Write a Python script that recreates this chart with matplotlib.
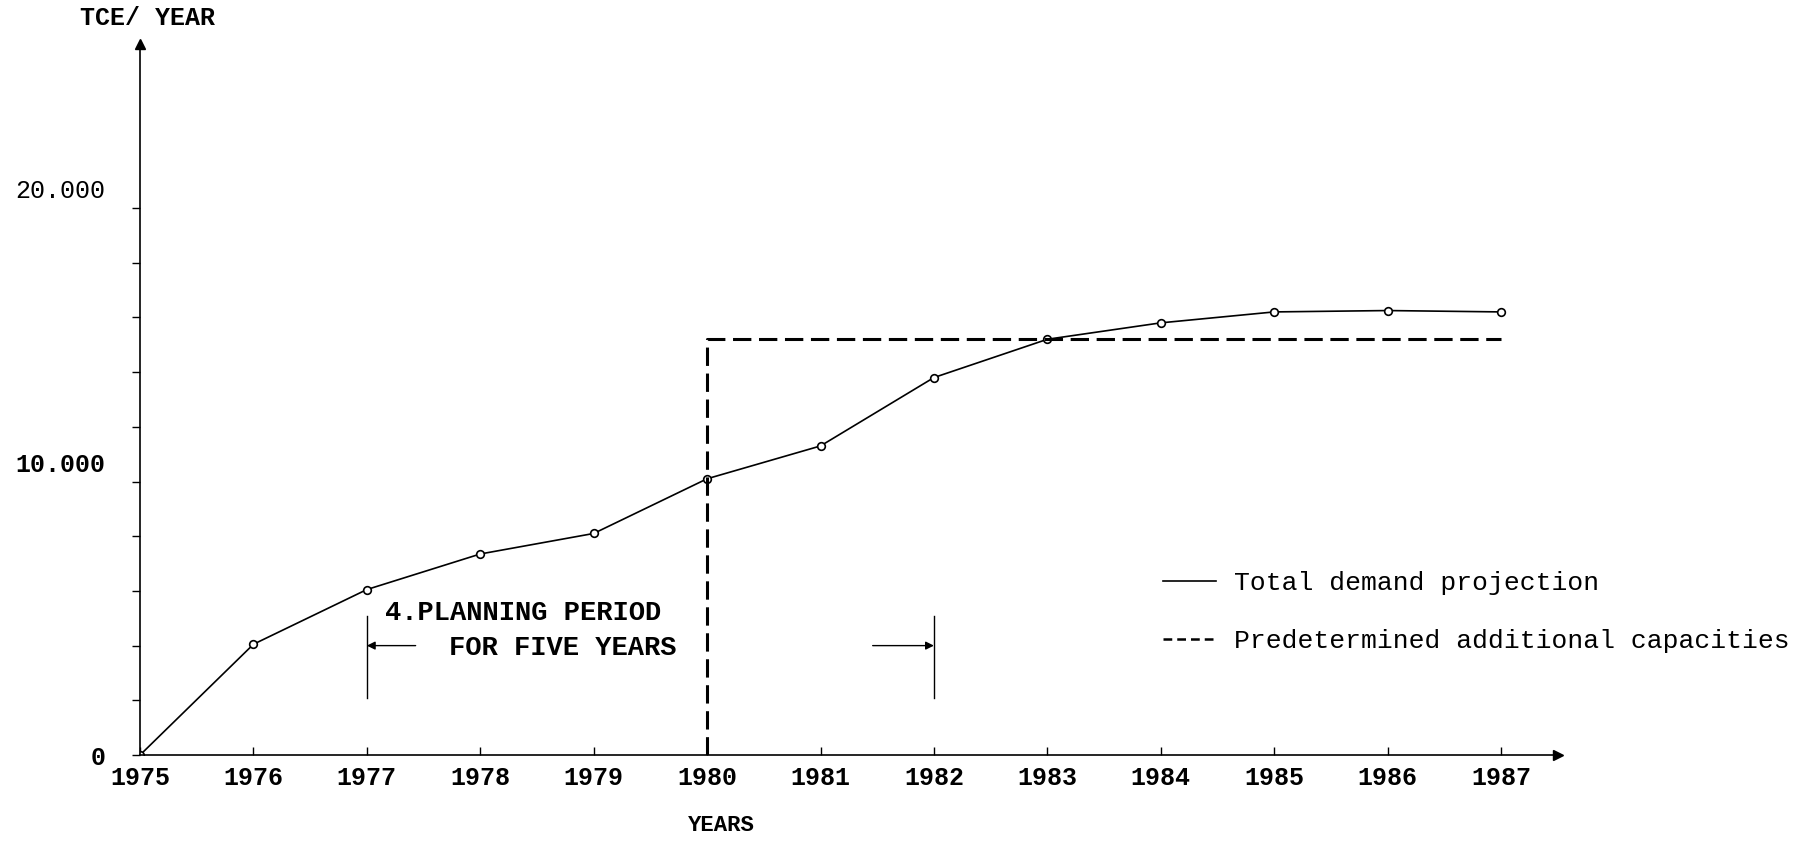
import matplotlib
matplotlib.use("Agg")
import matplotlib.pyplot as plt
import matplotlib.transforms as mtransforms

# data
years = [1975, 1976, 1977, 1978, 1979, 1980, 1981, 1982, 1983, 1984, 1985, 1986, 1987]
total_demand = [0, 4050, 6050, 7350, 8100, 10100, 11300, 13800, 15200, 15800, 16200, 16250, 16200]

capacity_years = [1980, 1980, 1987]
capacity_values = [0, 15200, 15200]

planning_start = 1977
planning_end = 1982
planning_arrow_y = 4000
planning_bracket = [2100, 5100]

y_major = [0, 10000, 20000]
y_major_labels = ["0", "10.000", "20.000"]
y_minor = list(range(0, 22000, 2000))

MONO = "Liberation Mono"

fig = plt.figure(figsize=(18.14, 8.42), dpi=100)
ax = fig.add_axes([0.0772, 0.1033, 0.7815, 0.8446])

ax.plot(years, total_demand, color="black", lw=1.2, marker="o", ms=5.5,
        mfc="white", mec="black", mew=1.2, label="Total demand projection")
ax.plot(capacity_years, capacity_values, color="black", lw=2.2,
        dashes=(6, 2.5), label="Predetermined additional capacities")

# planning period bracket
for x in (planning_start, planning_end):
    ax.plot([x, x], planning_bracket, color="black", lw=1.0)
ax.annotate("", xy=(planning_start, planning_arrow_y),
            xytext=(planning_start + 0.43, planning_arrow_y),
            arrowprops=dict(arrowstyle="-|>", color="black", lw=1.0,
                            mutation_scale=12, shrinkA=0, shrinkB=0))
ax.annotate("", xy=(planning_end, planning_arrow_y),
            xytext=(planning_end - 0.54, planning_arrow_y),
            arrowprops=dict(arrowstyle="-|>", color="black", lw=1.0,
                            mutation_scale=12, shrinkA=0, shrinkB=0))
ax.text(1977.16, 5200, "4.PLANNING PERIOD", family=MONO, weight="bold",
        fontsize=19.5, va="center", ha="left")
ax.text(1977.72, 3900, "FOR FIVE YEARS", family=MONO, weight="bold",
        fontsize=19.5, va="center", ha="left")

# axes styling
ax.set_xlim(1975, 1987.5)
ax.set_ylim(0, 26000)
for s in ("top", "right"):
    ax.spines[s].set_visible(False)
ax.spines["left"].set_linewidth(1.2)
ax.spines["bottom"].set_linewidth(1.2)
ax.plot(0, 1, "^k", ms=7, transform=ax.transAxes, clip_on=False)
ax.plot(1, 0, ">k", ms=7, transform=ax.transAxes, clip_on=False)

ax.set_xticks(years)
ax.set_xticklabels([str(y) for y in years], family=MONO, weight="bold", fontsize=18)
ax.tick_params(axis="x", direction="in", length=6, width=1, pad=8)

ax.set_yticks(y_major)
ax.set_yticklabels(y_major_labels, family=MONO, fontsize=18)
ax.set_yticks(y_minor, minor=True)
ax.tick_params(axis="y", which="both", direction="out", length=6, width=1, pad=19)
shift = mtransforms.ScaledTranslation(0, 14 / 72, fig.dpi_scale_trans)
for lab, txt in zip(ax.get_yticklabels(), y_major_labels):
    if txt != "0":
        lab.set_transform(lab.get_transform() + shift)
    if txt in ("0", "10.000"):
        lab.set_weight("bold")

ax.set_xlabel("YEARS", family=MONO, weight="bold", fontsize=16)
ax.xaxis.set_label_coords(0.41, -0.085)
ax.set_ylabel("TCE/ YEAR", family=MONO, weight="bold", fontsize=18,
              rotation=0, va="center")
ax.yaxis.set_label_coords(0.005, 1.037)

leg = fig.legend(loc="upper left", bbox_to_anchor=(0.641, 0.322), frameon=False,
                 prop={"family": MONO, "size": 19}, handlelength=2.0,
                 handletextpad=0.7, labelspacing=1.3, borderpad=0, borderaxespad=0)
leg.legend_handles[0].set_marker("")
leg.legend_handles[1].set_linewidth(1.8)
leg.legend_handles[1].set_dashes((3.5, 2))

fig.savefig("out.png", dpi=100)
